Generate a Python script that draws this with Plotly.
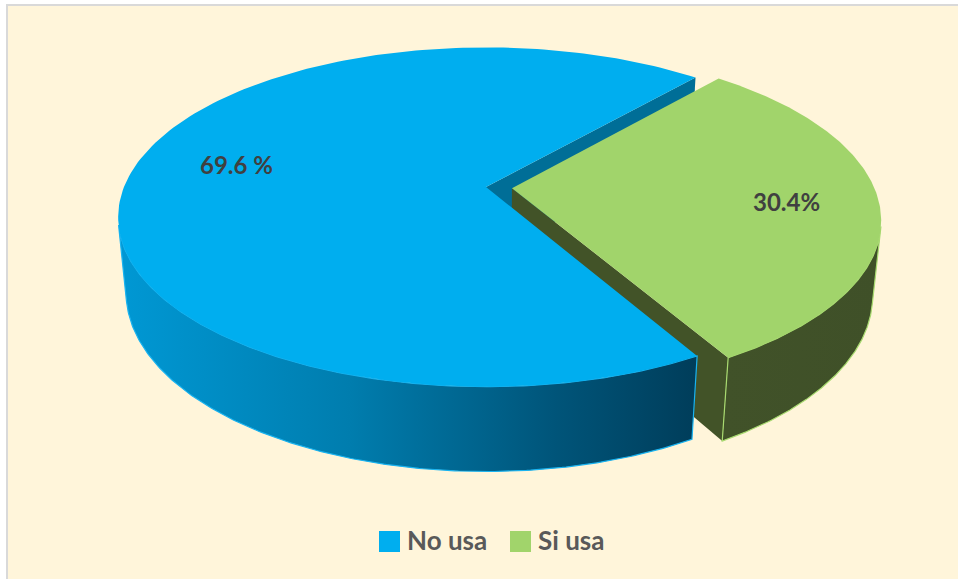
import numpy as np
import plotly.graph_objects as go

# ---------------- data ----------------
categories = ["No usa", "Si usa"]
values = [69.6, 30.4]
value_labels = ["69.6 %", "30.4%"]

# ---------------- style ----------------
top_colors = ["#00AEEF", "#A1D46B"]
side_colors = ["#006E97", "#425328"]
wall_scales = [
    [[0, "#0098D4"], [0.4, "#007DAE"], [0.75, "#00557A"], [1, "#003D5A"]],
    [[0, "#415229"], [1, "#3F5028"]],
]
wall_lines = ["#19B3F0", "#A8DA70"]
pulls = [0.0, 0.072]
label_r = [0.70, 0.75]
label_dy = [-11, 1]

W, H = 958, 579
CX, CY = 486.0, 187.0
F = 1821.0
DIST = 5.03
ELEV = np.radians(27.0)
THICK = 0.235
START = 49.0
CE, SE = np.cos(ELEV), np.sin(ELEV)


def proj(u, v, w):
    u = np.asarray(u, float)
    v = np.asarray(v, float)
    w = np.asarray(w, float)
    zc = DIST + v * CE - w * SE
    yc = v * SE + w * CE
    return CX + F * u / zc, CY - F * yc / zc


total = float(sum(values))
bounds = []
a = START
for val in values:
    b = a + 360.0 * val / total
    bounds.append((a, b))
    a = b

# visible front arc of the cylinder wall
phi = np.degrees(np.arcsin(1.0 / (DIST * CE)))
vis_lo, vis_hi = 180.0 + phi, 360.0 - phi

faces, walls, tops, labels = [], [], [], []
for i, (a0, a1) in enumerate(bounds):
    mid = np.radians((a0 + a1) / 2)
    ox, oy = pulls[i] * np.cos(mid), pulls[i] * np.sin(mid)

    # top face
    th = np.radians(np.linspace(a0, a1, 200))
    u = np.concatenate([[ox], ox + np.cos(th), [ox]])
    v = np.concatenate([[oy], oy + np.sin(th), [oy]])
    x, y = proj(u, v, np.zeros_like(u))
    tops.append(go.Scatter(x=x, y=y, fill="toself", fillcolor=top_colors[i],
                           line=dict(width=0), mode="lines", hoverinfo="skip",
                           showlegend=False))

    # radial side faces visible to the camera
    cam = np.array([-ox, -DIST * CE - oy])
    for ang, nvec in ((a0, (np.sin(np.radians(a0)), -np.cos(np.radians(a0)))),
                      (a1, (-np.sin(np.radians(a1)), np.cos(np.radians(a1))))):
        if np.dot(nvec, cam) > 0:
            r = np.radians(ang)
            uu = [ox, ox + np.cos(r), ox + np.cos(r), ox, ox]
            vv = [oy, oy + np.sin(r), oy + np.sin(r), oy, oy]
            ww = [0, 0, -THICK, -THICK, 0]
            x, y = proj(uu, vv, ww)
            faces.append(go.Scatter(x=x, y=y, fill="toself", fillcolor=side_colors[i],
                                    line=dict(width=0), mode="lines", hoverinfo="skip",
                                    showlegend=False))

    # outer wall (front part)
    segs = []
    for k in (-360.0, 0.0, 360.0):
        lo, hi = max(a0, vis_lo + k), min(a1, vis_hi + k)
        if hi > lo:
            segs.append((lo, hi))
    for lo, hi in segs:
        th = np.radians(np.linspace(lo, hi, 200))
        u = np.concatenate([ox + np.cos(th), ox + np.cos(th[::-1]), [ox + np.cos(th[0])]])
        v = np.concatenate([oy + np.sin(th), oy + np.sin(th[::-1]), [oy + np.sin(th[0])]])
        w = np.concatenate([np.zeros(len(th)), -THICK * np.ones(len(th)), [0.0]])
        x, y = proj(u, v, w)
        walls.append(go.Scatter(x=x, y=y, fill="toself",
                                fillgradient=dict(type="horizontal", colorscale=wall_scales[i]),
                                line=dict(width=1.2, color=wall_lines[i]), mode="lines",
                                hoverinfo="skip", showlegend=False))

    lx, ly = proj(ox + label_r[i] * np.cos(mid), oy + label_r[i] * np.sin(mid), 0.0)
    labels.append(dict(x=float(lx), y=float(ly) + label_dy[i], xref="x", yref="y",
                       text=value_labels[i], showarrow=False,
                       font=dict(family="Lato", size=24, color="#404040", weight="bold")))

fig = go.Figure(faces + walls + tops)

# legend (manual, larger swatches like the reference)
shapes = [dict(type="rect", xref="x", yref="y", x0=7, y0=5, x1=975, y1=600,
               fillcolor="#FFF5DA", line=dict(color="#D9D9D9", width=2), layer="below")]
leg_x = [379, 510]
for i, name in enumerate(categories):
    shapes.append(dict(type="rect", xref="x", yref="y", x0=leg_x[i], x1=leg_x[i] + 21,
                       y0=531, y1=552, fillcolor=top_colors[i], line=dict(width=0)))
    labels.append(dict(x=leg_x[i] + 26, y=540, xref="x", yref="y", text=name,
                       xanchor="left", yanchor="middle", showarrow=False,
                       font=dict(family="Lato", size=26, color="#595959", weight="bold")))

fig.update_layout(
    width=W, height=H,
    margin=dict(l=0, r=0, t=0, b=0),
    paper_bgcolor="white", plot_bgcolor="rgba(0,0,0,0)",
    xaxis=dict(range=[0, W], visible=False, fixedrange=True),
    yaxis=dict(range=[H, 0], visible=False, fixedrange=True),
    shapes=shapes, annotations=labels, showlegend=False,
)
fig.write_html("out.html")
